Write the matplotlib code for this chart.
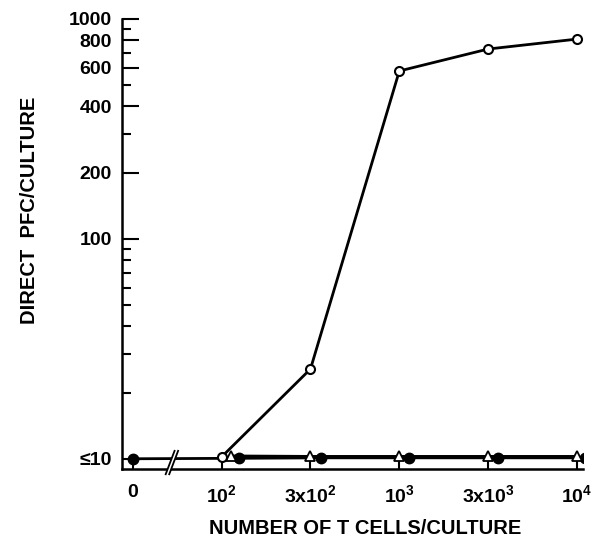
import numpy as np
import matplotlib
matplotlib.use("Agg")
import matplotlib.pyplot as plt
from matplotlib.transforms import blended_transform_factory
from matplotlib.patches import Polygon

plt.rcParams['font.family'] = ['Liberation Sans', 'DejaVu Sans']
plt.rcParams['font.weight'] = 'bold'
plt.rcParams['axes.labelweight'] = 'bold'
plt.rcParams['mathtext.fontset'] = 'custom'
plt.rcParams['mathtext.rm'] = 'Liberation Sans:bold'
plt.rcParams['mathtext.it'] = 'Liberation Sans:bold'
plt.rcParams['mathtext.bf'] = 'Liberation Sans:bold'

# data
x_labels = ['0', r'$\mathbf{10^{2}}$', r'$\mathbf{3x10^{2}}$', r'$\mathbf{10^{3}}$',
            r'$\mathbf{3x10^{3}}$', r'$\mathbf{10^{4}}$']
open_idx = [1, 2, 3, 4, 5]
open_pfc = [10.2, 25.6, 580, 730, 810]
tri_idx = [1, 2, 3, 4, 5]
tri_pfc = [10.3, 10.25, 10.25, 10.25, 10.25]
filled_idx = [0, 1, 2, 3, 4, 5]
filled_pfc = [10.0, 10.05, 10.1, 10.1, 10.1, 10.1]

y_ticks = [10, 100, 200, 400, 600, 800, 1000]
y_ticklabels = ['≤10', '100', '200', '400', '600', '800', '1000']
y_minor = [20, 30, 40, 50, 60, 70, 80, 90, 300, 500, 700, 900]

fig = plt.figure(figsize=(6, 5.42), dpi=100)
ax = fig.add_axes([0.203, 0.135, 0.769, 0.830])

tri_shift = np.array([0.11, 0, 0, 0, 0])
filled_shift = np.array([0, 0.2, 0.12, 0.11, 0.11, 0.09])

lw = 2.0
ax.plot(np.array(filled_idx) + filled_shift, filled_pfc, '-', color='black', lw=lw,
        marker='o', ms=7.5, mfc='black', mec='black', zorder=3)
ax.plot(np.array(tri_idx) + tri_shift, tri_pfc, '-', color='black', lw=lw,
        marker='^', ms=6.5, mfc='white', mec='black', mew=1.3, zorder=4)
ax.plot(open_idx, open_pfc, '-', color='black', lw=lw,
        marker='o', ms=6.5, mfc='white', mec='black', mew=1.5, zorder=5)

ax.set_yscale('log')
ax.set_xlim(-0.124, 5.07)
ax.set_ylim(9.0, 1000)

ax.set_yticks(y_ticks)
ax.set_yticklabels(y_ticklabels)
ax.set_yticks(y_minor, minor=True)
ax.set_yticklabels([], minor=True)
ax.set_xticks(range(len(x_labels)))
ax.set_xticklabels(x_labels)

ax.tick_params(axis='y', which='major', direction='in', length=12, width=1.5,
               labelsize=14, pad=7)
ax.tick_params(axis='y', which='minor', direction='in', length=6.5, width=1.5)
ax.tick_params(axis='x', which='major', direction='in', length=7, width=1.5,
               labelsize=14, pad=11)

for s in ['top', 'right']:
    ax.spines[s].set_visible(False)
for s in ['left', 'bottom']:
    ax.spines[s].set_linewidth(1.8)

ax.set_xlabel('NUMBER OF T CELLS/CULTURE', fontsize=14.5, fontweight='bold')
ax.set_ylabel('DIRECT  PFC/CULTURE', fontsize=14.5, fontweight='bold')
ax.xaxis.set_label_coords(0.527, -0.111)
ax.yaxis.set_label_coords(-0.18, 0.575)

# axis break between 0 and 10^2
brk = 0.44
tr = blended_transform_factory(ax.transData, ax.transAxes)
dx, gap = 0.05, 0.04
y0, y1 = -0.012, 0.04
ax.add_patch(Polygon([(brk - gap / 2 - dx, y0), (brk + gap / 2 - dx, y0),
                      (brk + gap / 2 + dx, y1), (brk - gap / 2 + dx, y1)],
                     closed=True, facecolor='white', edgecolor='none',
                     transform=tr, clip_on=False, zorder=10))
for off in (-gap / 2, gap / 2):
    ax.plot([brk + off - dx, brk + off + dx], [y0, y1], color='black', lw=1.3,
            transform=tr, clip_on=False, zorder=11)

fig.savefig('out.png', dpi=100)
